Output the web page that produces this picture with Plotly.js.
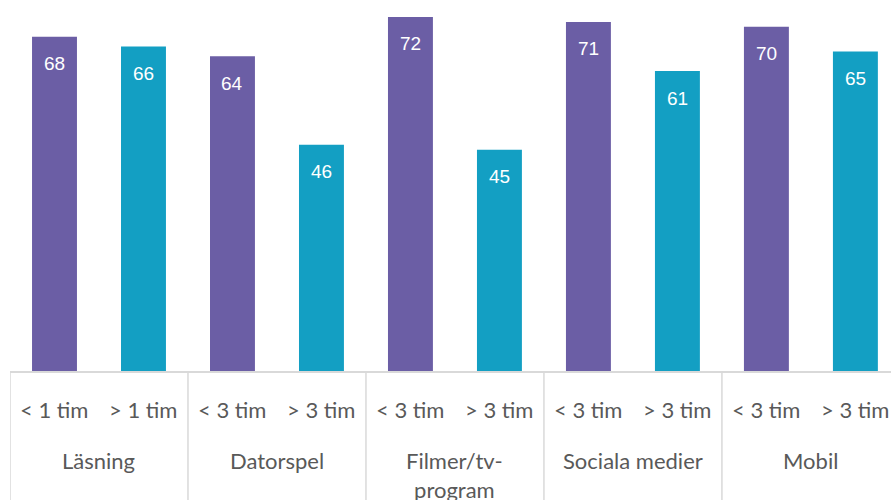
<!DOCTYPE html>
<html>
<head>
<meta charset="utf-8">
<script src="https://cdn.plot.ly/plotly-3.0.1.min.js"></script>
<style>html,body{margin:0;padding:0;background:#fff;}#chart{width:891px;height:500px;}</style>
</head>
<body>
<div id="chart"></div>
<script>
const groups = ["Läsning", "Datorspel", "Filmer/tv-<br>program", "Sociala medier", "Mobil"];
const subcats = ["< 1 tim", "> 1 tim", "< 3 tim", "> 3 tim", "< 3 tim", "> 3 tim", "< 3 tim", "> 3 tim", "< 3 tim", "> 3 tim"];
const values = [68, 66, 64, 46, 72, 45, 71, 61, 70, 65];
const seriesColors = ["#6B5EA5", "#139FC3"];

const W = 891, H = 500, ML = 10, MB = 129;
const plotH = H - MB;
const px = v => -v / plotH; // pixels below plot bottom -> paper coords

const xs = values.map((_, i) => i);
const colors = values.map((_, i) => seriesColors[i % 2]);

const trace = {
  type: 'bar',
  x: xs,
  y: values,
  marker: {color: colors, line: {width: 0}},
  width: 0.505,
  hoverinfo: 'skip'
};

const annotations = [];
const shapes = [];
const textColor = '#595959';
const fontFam = 'Lato, "Liberation Sans", sans-serif';

values.forEach((v, i) => {
  annotations.push({
    x: i, y: v, xref: 'x', yref: 'y', text: String(v), showarrow: false,
    yanchor: 'middle', yshift: -27,
    font: {family: '"Liberation Sans", Arial, sans-serif', size: 19, color: '#ffffff'}
  });
  annotations.push({
    x: i, y: px(409 - 371), xref: 'x', yref: 'paper', text: subcats[i], showarrow: false,
    yanchor: 'middle', font: {family: fontFam, size: 22, color: textColor}
  });
});

groups.forEach((g, k) => {
  annotations.push({
    x: 2 * k + 0.5, y: px(445 - 371), xref: 'x', yref: 'paper', text: g, showarrow: false,
    yanchor: 'top', font: {family: fontFam, size: 22, color: textColor}
  });
  shapes.push({
    type: 'line', xref: 'x', yref: 'paper', x0: 2 * k - 0.5, x1: 2 * k - 0.5,
    y0: 0, y1: px(MB + 5), line: {color: '#d9d9d9', width: 1.5}
  });
});

const layout = {
  width: W, height: H,
  margin: {l: ML, r: 0, t: 0, b: MB, pad: 0},
  paper_bgcolor: '#ffffff', plot_bgcolor: '#ffffff',
  showlegend: false,
  xaxis: {
    range: [-0.5, 9.4], showticklabels: false, ticks: '', showgrid: false, zeroline: false,
    showline: true, linecolor: '#d9d9d9', linewidth: 1.5, fixedrange: true
  },
  yaxis: {
    range: [0, 75.45], showticklabels: false, ticks: '', showgrid: false, zeroline: false,
    showline: false, fixedrange: true
  },
  annotations: annotations,
  shapes: shapes
};

Plotly.newPlot('chart', [trace], layout, {displayModeBar: false, staticPlot: true});
</script>
</body>
</html>
